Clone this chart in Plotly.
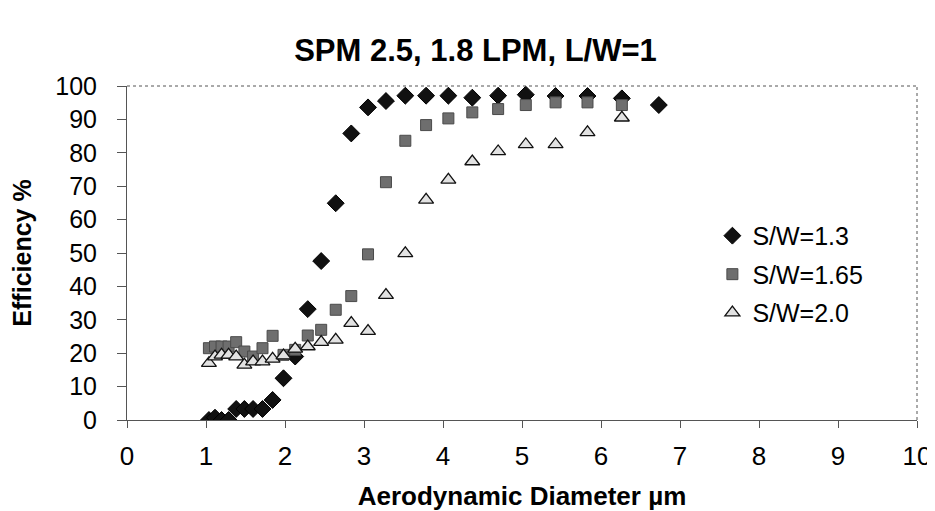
import plotly.graph_objects as go

# Aerodynamic diameter bins (µm)
diam = [1.037, 1.114, 1.197, 1.286, 1.382, 1.486, 1.596, 1.715, 1.843, 1.981,
        2.129, 2.288, 2.458, 2.642, 2.839, 3.051, 3.278, 3.523, 3.786, 4.068,
        4.371, 4.698, 5.048, 5.425, 5.829, 6.264, 6.732]

eff_13 = [0, 0.7, 0, 0, 3.3, 3.3, 3.3, 3.3, 6.0, 12.5,
          19.0, 33.2, 47.6, 64.9, 85.8, 93.6, 95.5, 97.1, 97.1, 97.1,
          96.5, 97.1, 97.4, 97.0, 97.0, 96.3, 94.3]

diam_165 = diam[:26]
eff_165 = [21.5, 22.0, 22.0, 22.0, 23.3, 20.5, 19.0, 21.5, 25.2, 19.5,
           21.0, 25.3, 27.0, 33.0, 37.1, 49.6, 71.2, 83.6, 88.3, 90.3,
           92.1, 93.1, 94.3, 95.1, 95.1, 94.3]

diam_20 = diam[:26]
eff_20 = [17.0, 19.0, 19.5, 19.5, 19.0, 16.5, 17.5, 17.5, 18.3, 19.3,
          21.3, 22.0, 23.3, 24.0, 29.0, 26.6, 37.4, 49.9, 65.9, 71.9,
          77.4, 80.4, 82.5, 82.5, 86.1, 90.5]

names = ["S/W=1.3", "S/W=1.65", "S/W=2.0"]
x_ticks = list(range(0, 11))
y_ticks = list(range(0, 101, 10))

FONT = "Liberation Sans, Arial, sans-serif"

fig = go.Figure()
fig.add_trace(go.Scatter(
    x=diam, y=eff_13, mode="markers", name=names[0], legendgroup="a",
    marker=dict(symbol="diamond", size=13, color="#111111",
                line=dict(color="#000000", width=1))))
fig.add_trace(go.Scatter(
    x=diam_165, y=eff_165, mode="markers", name=names[1], legendgroup="b",
    marker=dict(symbol="square", size=11, color="#6e6e6e",
                line=dict(color="#4a4a4a", width=1))))
fig.add_trace(go.Scatter(
    x=diam_20, y=eff_20, mode="markers", name=names[2], legendgroup="c",
    marker=dict(symbol="triangle-up", size=13, color="#e2e2e2",
                line=dict(color="#111111", width=1.3))))

fig.update_layout(
    width=935, height=511,
    paper_bgcolor="white", plot_bgcolor="white",
    margin=dict(l=118, r=18, t=78, b=99),
    font=dict(family=FONT, color="#000000"),
    title=dict(text="<b>SPM 2.5, 1.8 LPM, L/W=1</b>", x=0.5, xanchor="center",
               y=0.918, yanchor="middle", font=dict(size=31, family=FONT)),
    showlegend=True,
    legend=dict(x=0.741, y=0.62, xanchor="left", yanchor="top",
                bgcolor="rgba(0,0,0,0)", font=dict(size=25, family=FONT),
                tracegroupgap=3, traceorder="grouped", itemsizing="trace"),
    xaxis=dict(range=[0, 10], tickvals=x_ticks, ticks="outside", ticklen=7,
               tickcolor="#555555", showline=True, linecolor="#555555",
               linewidth=1, showgrid=False, zeroline=False,
               tickfont=dict(size=26, family=FONT), ticklabelstandoff=6,
               title=dict(text="<b>Aerodynamic Diameter µm</b>",
                          font=dict(size=26, family=FONT), standoff=16)),
    yaxis=dict(range=[0, 100], tickvals=y_ticks, ticks="outside", ticklen=9,
               tickcolor="#555555", showline=True, linecolor="#555555",
               linewidth=1, showgrid=False, zeroline=False,
               tickfont=dict(size=25, family=FONT), ticklabelstandoff=15,
               title=dict(text="<b>Efficiency %</b>",
                          font=dict(size=25, family=FONT), standoff=18)),
)

# dotted top and right border of plot area
fig.add_shape(type="line", xref="paper", yref="paper", x0=0, x1=1, y0=1, y1=1,
              line=dict(color="#555555", width=1, dash="dot"))
fig.add_shape(type="line", xref="paper", yref="paper", x0=1, x1=1, y0=0, y1=1,
              line=dict(color="#555555", width=1, dash="dot"))

fig.write_html("out.html")
